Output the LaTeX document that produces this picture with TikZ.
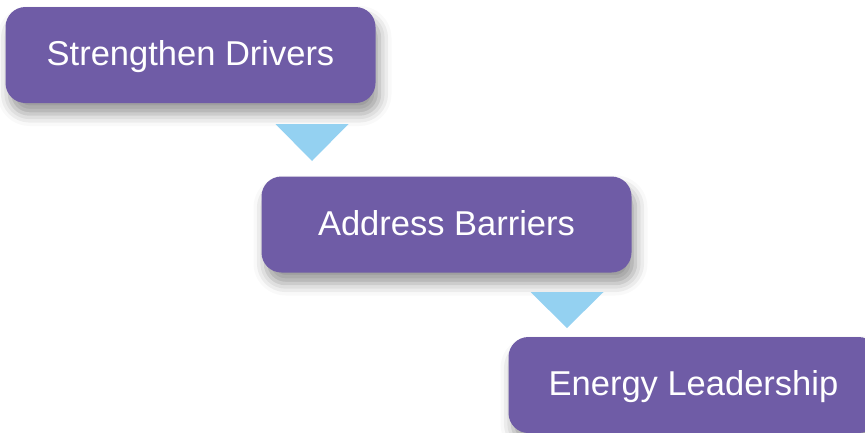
\documentclass[tikz,border=0pt]{standalone}
\usepackage{fontspec}
\setmainfont{Liberation Sans}
\usetikzlibrary{shadows.blur}
\definecolor{stepPurple}{HTML}{6F5CA6}
\definecolor{tipBlue}{HTML}{94D1F1}

\begin{document}
\begin{tikzpicture}[x=1pt,y=-1pt,
                stage/.style={fill=stepPurple,rounded corners=20pt,
                    minimum width=370pt,minimum height=96pt,inner sep=0pt,
                    text height=25pt,text depth=4pt,
                    text=white,font=\fontsize{34.5}{40}\selectfont,
                    blur shadow={shadow xshift=4pt,shadow yshift=-11pt,
                        shadow blur radius=12pt,shadow opacity=40}},
                tip/.style={fill=tipBlue}]
                \clip (0,0) rectangle (865,432);

                \node[stage] (drivers) at (190.5,55) {Strengthen Drivers};
                \node[stage] (barriers) at (446.5,224.5) {Address Barriers};
                \node[stage] (leadership) at (693.5,385) {Energy Leadership};

                \coordinate (t1) at (312,124);
                \coordinate (t2) at (567,292);

                \fill[tip] (t1) ++(-36.5,0) -- ++(73,0) -- ($(t1)+(0,37)$) -- cycle;
                \fill[tip] (t2) ++(-36.5,0) -- ++(73,0) -- ($(t2)+(0,36)$) -- cycle;

            \end{tikzpicture}
\end{document}
